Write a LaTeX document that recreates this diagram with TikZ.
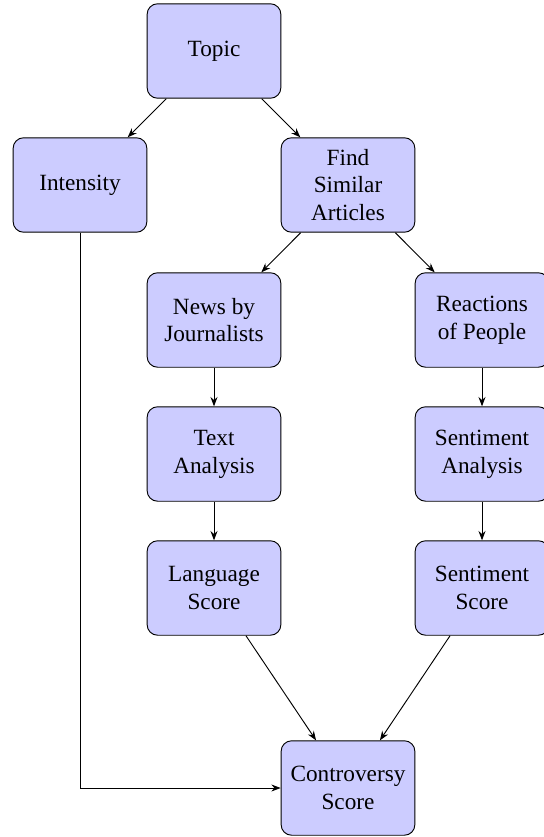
\documentclass[tikz,border=0pt]{standalone}
\usepackage{fontspec}
\setmainfont{Liberation Serif}
\usetikzlibrary{arrows.meta}
\tikzset{
  box/.style={draw, fill=blue!20, rounded corners=4.5pt, minimum width=57.5pt, minimum height=40.6pt, align=center, inner sep=2pt, line width=0.4pt},
  conn/.style={-{Stealth[length=4pt,width=3pt]}, line width=0.4pt}
}
\begin{document}
\begin{tikzpicture}[x=0.43pt, y=-0.43pt]
\useasboundingbox (0,0) rectangle (544,837);
\node[box] (topic) at (214,51) {Topic};
\node[box] (intensity) at (80,185) {Intensity};
\node[box] (find) at (348,185) {Find\\Similar\\Articles};
\node[box] (news) at (214,320) {News by\\Journalists};
\node[box] (reac) at (482,320) {Reactions\\of People};
\node[box] (text) at (214,454) {Text\\Analysis};
\node[box] (sent) at (482,454) {Sentiment\\Analysis};
\node[box] (lang) at (214,588) {Language\\Score};
\node[box] (sscore) at (482,588) {Sentiment\\Score};
\node[box] (contro) at (348,788) {Controversy\\Score};
\draw[conn] (topic) -- (intensity);
\draw[conn] (topic) -- (find);
\draw[conn] (find) -- (news);
\draw[conn] (find) -- (reac);
\draw[conn] (news) -- (text);
\draw[conn] (text) -- (lang);
\draw[conn] (reac) -- (sent);
\draw[conn] (sent) -- (sscore);
\draw[conn] (lang) -- (contro);
\draw[conn] (sscore) -- (contro);
\draw[conn] (intensity) |- (contro);
\end{tikzpicture}
\end{document}
